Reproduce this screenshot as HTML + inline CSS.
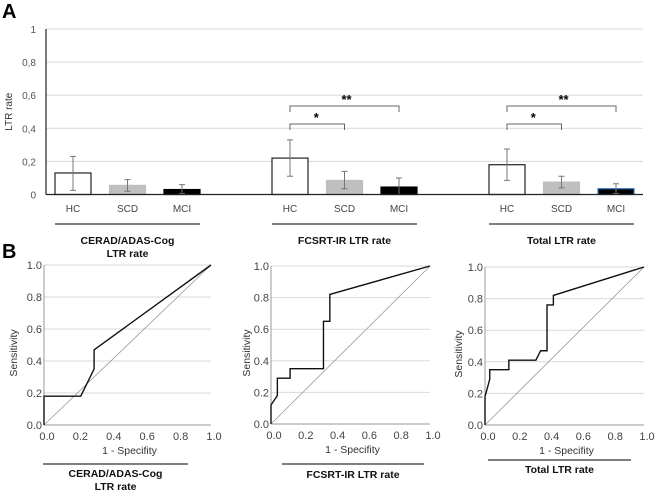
<!DOCTYPE html>
<html><head><meta charset="utf-8">
<style>
html,body{margin:0;padding:0;background:#fff;}
svg{display:block;font-family:"Liberation Sans",sans-serif;}
.tk{font-size:10px;fill:#555;}
.rtk{font-size:11px;fill:#444;}
.cat{font-size:10px;fill:#444;}
.ttl{font-size:10.5px;font-weight:bold;fill:#111;}
.pl{font-size:20px;font-weight:bold;fill:#000;}
</style></head>
<body>
<svg id="fig" width="669" height="491" viewBox="0 0 669 491" xmlns="http://www.w3.org/2000/svg">
<text class="pl" x="2" y="18">A</text>
<text class="pl" x="2" y="258">B</text>
<g id="bars"></g>
<g id="rocs"></g>
</svg>
<script>
const NS='http://www.w3.org/2000/svg';
// ---- bar chart data ----
const groupNames=['CERAD/ADAS-Cog|LTR rate','FCSRT-IR LTR rate','Total LTR rate'];
const categories=['HC','SCD','MCI'];
const barValues=[[0.13,0.055,0.03],[0.22,0.085,0.045],[0.18,0.075,0.035]];
const errLow=[[0.025,0.02,0.005],[0.11,0.035,0.0],[0.085,0.04,0.005]];
const errHigh=[[0.23,0.09,0.06],[0.33,0.14,0.1],[0.275,0.11,0.065]];
const yTicks=[0,0.2,0.4,0.6,0.8,1];
const yTickLabels=['0','0,2','0,4','0,6','0,8','1'];
// ---- ROC data ----
const rocTitles=['CERAD/ADAS-Cog|LTR rate','FCSRT-IR LTR rate','Total LTR rate'];
const rocX=[[0,0,0.22,0.3,0.3,1],
 [0,0,0.04,0.04,0.12,0.12,0.33,0.33,0.37,0.37,1],
 [0,0,0.03,0.03,0.15,0.15,0.32,0.35,0.39,0.39,0.43,0.43,1]];
const rocY=[[0,0.18,0.18,0.35,0.47,1],
 [0,0.12,0.18,0.29,0.29,0.35,0.35,0.65,0.65,0.82,1],
 [0,0.18,0.29,0.35,0.35,0.41,0.41,0.47,0.47,0.76,0.76,0.82,1]];
const rocTicks=[0,0.2,0.4,0.6,0.8,1];
const rocTickLabels=['0.0','0.2','0.4','0.6','0.8','1.0'];

function mk(tag,attrs,parent,txt){const e=document.createElementNS(NS,tag);for(const k in attrs)e.setAttribute(k,attrs[k]);if(txt!==undefined)e.textContent=txt;parent.appendChild(e);return e;}

// ---- bar chart ----
(function(){
 const g=document.getElementById('bars');
 const X0=46,X1=643,Y0=194.5,Y1=29;
 const y=v=>Y0-(Y0-Y1)*v;
 const groupStart=[73,290,507],step=54.5,bw=36;
 yTicks.forEach((t,i)=>{
  if(t>0){const l=mk('line',{x1:X0,x2:X1,y1:y(t),y2:y(t),stroke:'#d9d9d9','stroke-width':1},g);
   }
  const tx=mk('text',{class:'tk',x:36,y:y(t)+4,'text-anchor':'end'},g,yTickLabels[i]);
  
 });
 const yt=mk('text',{class:'tk',transform:'translate(12,'+((Y0+Y1)/2)+') rotate(-90)','text-anchor':'middle',style:'fill:#333'},g,'LTR rate');
 
 const fills=['#fff','#bfbfbf','#000'];
 const strokes=['#222','#bfbfbf','#000'];
 barValues.forEach((vals,gi)=>{
  vals.forEach((v,ci)=>{
   const cx=groupStart[gi]+ci*step;
   const r=mk('rect',{x:cx-bw/2,y:y(v),width:bw,height:Y0-y(v),fill:fills[ci],stroke:(gi==2&&ci==2)?'#2e75b6':strokes[ci],'stroke-width':1.2},g);
   
   const eb=mk('path',{d:`M${cx} ${y(errLow[gi][ci])}V${y(errHigh[gi][ci])}M${cx-3} ${y(errLow[gi][ci])}H${cx+3}M${cx-3} ${y(errHigh[gi][ci])}H${cx+3}`,stroke:'#777',fill:'none','stroke-width':1},g);
   
   const ct=mk('text',{class:'cat',x:cx,y:212,'text-anchor':'middle'},g,categories[ci]);
   
  });
  const s=groupStart[gi]-18,e=groupStart[gi]+2*step+18;
  const ul=mk('line',{x1:s,x2:e,y1:224,y2:224,stroke:'#333','stroke-width':1.3},g);
  
  groupNames[gi].split('|').forEach((ln,li)=>{
   const t=mk('text',{class:'ttl',x:(s+e)/2,y:244+li*13,'text-anchor':'middle'},g,ln);
   
  });
  if(gi>0){
   const hc=groupStart[gi],sc=hc+step,mc=hc+2*step;
   const b1=mk('path',{d:`M${hc} 130V124H${sc}V130`,stroke:'#666',fill:'none','stroke-width':1},g);
   
   const b2=mk('path',{d:`M${hc} 112V106H${mc}V112`,stroke:'#666',fill:'none','stroke-width':1},g);
   
   const a1=mk('text',{x:(hc+sc)/2-1,y:122,'text-anchor':'middle','font-size':'13','font-weight':'bold'},g,'*');
   
   const a2=mk('text',{x:(hc+mc)/2+2,y:104,'text-anchor':'middle','font-size':'13','font-weight':'bold'},g,'**');
   
  }
 });
 const ax=mk('line',{x1:X0,x2:X0,y1:Y1,y2:Y0,stroke:'#222','stroke-width':1.2},g);
 
 const bl=mk('line',{x1:X0,x2:X1,y1:Y0,y2:Y0,stroke:'#222','stroke-width':1.2},g);
 
})();

// ---- ROC charts ----
(function(){
 const g=document.getElementById('rocs');
 const P=[{x0:44,x1:211,y0:425,y1:265,ul:[43,188,464],tt:477,yl:17},
          {x0:271,x1:430,y0:424,y1:266,ul:[282,424,464],tt:478,yl:250},
          {x0:485,x1:644,y0:425,y1:267,ul:[488,631,460],tt:473,yl:462}];
 P.forEach((p,pi)=>{
  const sx=v=>p.x0+(p.x1-p.x0)*v, sy=v=>p.y0-(p.y0-p.y1)*v;
  const pg=mk('g',{},g);
  
  rocTicks.forEach((t,i)=>{
   if(t>0){const l=mk('line',{x1:p.x0,x2:p.x1,y1:sy(t),y2:sy(t),stroke:'#d9d9d9','stroke-width':1},pg);
    }
   const ty=mk('text',{class:'rtk',x:p.x0-2,y:sy(t)+4,'text-anchor':'end'},pg,rocTickLabels[i]);
   
   const tx=mk('text',{class:'rtk',x:sx(t)+3,y:p.y0+15,'text-anchor':'middle'},pg,rocTickLabels[i]);
   
  });
  const ax=mk('path',{d:`M${p.x0} ${p.y1}V${p.y0}H${p.x1}`,stroke:'#999',fill:'none','stroke-width':1},pg);
  
  const dg=mk('line',{x1:sx(0),y1:sy(0),x2:sx(1),y2:sy(1),stroke:'#999','stroke-width':0.8},pg);
  
  const d=rocX[pi].map((v,i)=>(i?'L':'M')+sx(v)+' '+sy(rocY[pi][i])).join('');
  const c=mk('path',{d:d,stroke:'#111',fill:'none','stroke-width':1.4},pg);
  
  const xl=mk('text',{class:'tk',x:(p.x0+p.x1)/2+2,y:p.y0+29,'text-anchor':'middle',style:'fill:#333;font-size:10.5px'},pg,'1 - Specifity');
  
  const yl=mk('text',{class:'tk',transform:`translate(${p.yl},${(p.y0+p.y1)/2+8}) rotate(-90)`,'text-anchor':'middle',style:'fill:#333;font-size:10.5px'},pg,'Sensitivity');
  
  const ul=mk('line',{x1:p.ul[0],x2:p.ul[1],y1:p.ul[2],y2:p.ul[2],stroke:'#333','stroke-width':1.3},pg);
  
  rocTitles[pi].split('|').forEach((ln,li)=>{
   const t=mk('text',{class:'ttl',x:(p.ul[0]+p.ul[1])/2,y:p.tt+li*13,'text-anchor':'middle'},pg,ln);
   
  });
 });
})();
</script>
</body></html>
